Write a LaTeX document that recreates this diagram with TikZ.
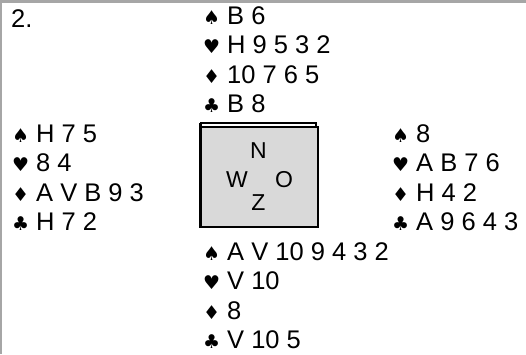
\documentclass[tikz,border=0pt]{standalone}
\usepackage{fontspec}
\setmainfont{Liberation Sans}
\newfontfamily\suitfont{DejaVu Sans}
\newcommand{\suit}[1]{\makebox[24bp][l]{\fontsize{19bp}{19bp}\suitfont #1}}
\newcommand{\spd}{\suit{♠}}
\newcommand{\hrt}{\suit{♥}}
\newcommand{\dia}{\suit{♦}}
\newcommand{\clb}{\suit{♣}}
\tikzset{
  hand/.style={anchor=base west,inner sep=0pt,font=\fontsize{25.5bp}{29.5bp}\selectfont},
  wind/.style={anchor=base,inner sep=0pt,font=\fontsize{23bp}{23bp}\selectfont}
}
\begin{document}
\begin{tikzpicture}[x=1bp,y=-1bp]
   \useasboundingbox (0,0) rectangle (526,354);
   % frame
   \fill[gray!70] (0,0) rectangle (526,3);
   \fill[gray!70] (0,0) rectangle (1.5,354);
   % table
   \draw[fill=gray!30,line width=1.2bp] (201,127) rectangle (318,227);
   \draw[line width=1.2bp] (200,123) -- (316,123) -- (316,127);
   \draw[line width=3bp] (200.5,123) -- (200.5,227.6);
   \node[wind] (N) at (258.5,158) {N};
   \node[wind] (W) at (237,187) {W};
   \node[wind] (O) at (284,187) {O};
   \node[wind] (Z) at (258.5,210) {Z};
   % hands
   \node[hand] (nr) at (11,27) {2.};
   \foreach \txt [count=\i from 0] in {{\spd B 6},{\hrt H 9 5 3 2},{\dia 10 7 6 5},{\clb B 8}}
      \node[hand] (north\i) at (203,24+29.5*\i) {\txt};
   \foreach \txt [count=\i from 0] in {{\spd H 7 5},{\hrt 8 4},{\dia A V B 9 3},{\clb H 7 2}}
      \node[hand] (west\i) at (12,142+29.5*\i) {\txt};
   \foreach \txt [count=\i from 0] in {{\spd 8},{\hrt A B 7 6},{\dia H 4 2},{\clb A 9 6 4 3}}
      \node[hand] (east\i) at (392,142+29.5*\i) {\txt};
   \foreach \txt [count=\i from 0] in {{\spd A V 10 9 4 3 2},{\hrt V 10},{\dia 8},{\clb V 10 5}}
      \node[hand] (south\i) at (203,260+29.5*\i) {\txt};
\end{tikzpicture}
\end{document}
